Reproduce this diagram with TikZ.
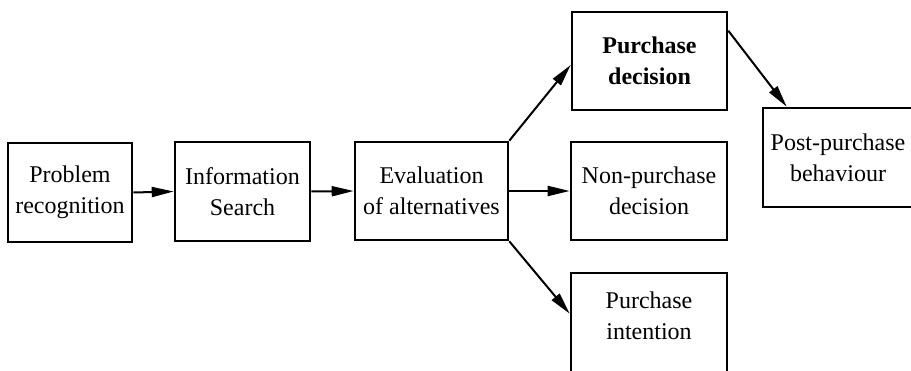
\documentclass[tikz,border=0pt]{standalone}
\usepackage{fontspec}
\setmainfont{Liberation Serif}
\usetikzlibrary{arrows.meta,calc}
\begin{document}
\begin{tikzpicture}[x=1pt,y=-1pt,
  box/.style={draw,line width=2.6pt,rectangle,inner sep=0pt,align=center,
    font=\fontsize{24}{31}\selectfont},
  txt/.style={align=center,inner sep=0pt,font=\fontsize{24}{31}\selectfont},
  conn/.style={line width=2pt,-{Triangle[length=22pt,width=10pt]}}]
\useasboundingbox (0,0) rectangle (911,371);
\fill[white] (0,0) rectangle (911,371);
\node[box,minimum width=124pt,minimum height=99pt] (pr) at (70,192.5) {Problem\\recognition};
\node[box,minimum width=135pt,minimum height=99pt] (is) at (242.5,191.5) {Information\\Search};
\node[box,minimum width=153pt,minimum height=98pt] (ev) at (431.5,191) {Evaluation\\of alternatives};
\node[box,minimum width=155pt,minimum height=98pt,font=\fontsize{24}{31}\selectfont\bfseries] (pd) at (649.5,61) {Purchase\\decision};
\node[box,minimum width=156pt,minimum height=98pt] (np) at (649,191) {Non-purchase\\decision};
\node[box,minimum width=156pt,minimum height=112pt] (pi) at (649,329) {};
\node[txt] (pit) at (649,316) {Purchase\\intention};
\node[box,minimum width=158pt,minimum height=99pt] (pp) at (842,157.5) {};
\node[txt] (ppt) at (838,157.5) {Post-purchase\\behaviour};
\draw[conn] (pr.east) -- (is.west);
\draw[conn] (is.east) -- (ev.west);
\draw[conn] (ev.east) -- (np.west);
\draw[conn] (ev.north east) -- ($(pd.west)+(0,4)$);
\draw[conn] (ev.south east) -- ($(pi.north west)+(0,42)$);
\draw[conn] ($(pd.north east)+(0,20)$) -- ($(pp.north west)+(25,0)$);
\end{tikzpicture}
\end{document}
